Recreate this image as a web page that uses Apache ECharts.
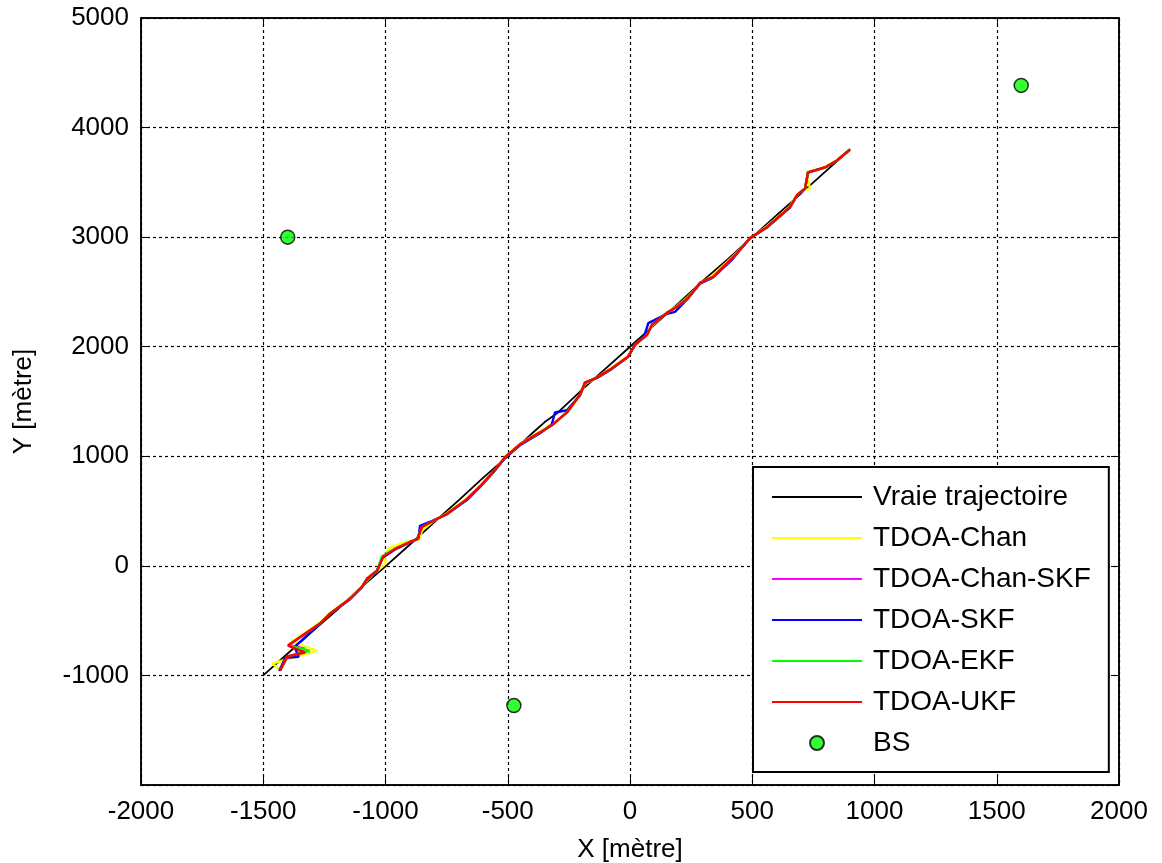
<!DOCTYPE html>
<html>
<head>
<meta charset="utf-8">
<script src="https://cdn.jsdelivr.net/npm/echarts@6/dist/echarts.min.js"></script>
<style>
  html, body { margin: 0; padding: 0; background: #fff; }
  #chart { width: 1162px; height: 863px; }
</style>
</head>
<body>
<div id="chart"></div>
<script>
// trajectories [x, y] in metres
const vraieTrajectoire = [
  [-1500, -1000], [-1400, -800], [-1300, -600], [-1200, -405], [-1100, -195], [-1000, -5],
  [-900, 195], [-800, 400], [-700, 600], [-600, 805], [-500, 1000], [-400, 1210],
  [-350, 1310], [-300, 1390], [-200, 1600], [-100, 1800], [0, 2000], [100, 2200],
  [200, 2400], [300, 2605], [400, 2800], [500, 3000], [600, 3200], [700, 3400],
  [800, 3600], [900, 3800]
];

const tdoaChan = [
  [-1425, -955], [-1464, -891], [-1395, -850], [-1280, -773], [-1382, -691], [-1268, -520],
  [-1227, -430], [-1145, -295], [-1096, -185], [-1070, -120], [-1040, -60], [-1000, 20],
  [-1005, 80], [-985, 160], [-930, 210], [-865, 240], [-848, 330], [-806, 405], [-749, 480],
  [-667, 615], [-613, 720], [-560, 850], [-511, 995], [-450, 1115], [-368, 1225], [-315, 1300],
  [-258, 1400], [-204, 1550], [-184, 1660], [-135, 1720], [-82, 1800], [-8, 1915], [20, 2010],
  [70, 2115], [90, 2190], [151, 2315], [192, 2370], [237, 2455], [286, 2575], [339, 2650],
  [438, 2860], [491, 2985], [560, 3100], [654, 3280], [683, 3395], [736, 3445], [723, 3591],
  [797, 3640], [847, 3705], [900, 3800]
];

const tdoaChanSkf = [
  [-1430, -955], [-1400, -830], [-1355, -800], [-1330, -755], [-1395, -722], [-1268, -527],
  [-1227, -436], [-1145, -300], [-1096, -191], [-1076, -118], [-1035, -45], [-1010, 82],
  [-961, 155], [-900, 218], [-870, 245], [-851, 355], [-806, 409], [-749, 473], [-667, 609],
  [-613, 727], [-560, 855], [-511, 991], [-450, 1109], [-368, 1218], [-315, 1291], [-258, 1400],
  [-204, 1564], [-184, 1673], [-135, 1718], [-82, 1791], [-8, 1909], [20, 2018], [70, 2109],
  [90, 2200], [151, 2309], [192, 2364], [237, 2445], [286, 2582], [339, 2636], [438, 2855],
  [491, 2991], [560, 3091], [654, 3273], [683, 3382], [716, 3445], [728, 3591], [797, 3636],
  [847, 3700], [900, 3800]
];

const tdoaSkf = [
  [-1435, -960], [-1410, -840], [-1355, -830], [-1372, -740], [-1268, -530], [-1227, -440],
  [-1145, -305], [-1096, -195], [-1076, -125], [-1035, -50], [-1012, 75], [-961, 150],
  [-900, 215], [-865, 250], [-859, 364], [-806, 412], [-749, 470], [-667, 600], [-613, 720],
  [-560, 850], [-511, 985], [-450, 1100], [-368, 1210], [-320, 1290], [-307, 1400], [-258, 1420],
  [-204, 1560], [-184, 1670], [-135, 1715], [-82, 1785], [-8, 1905], [20, 2015], [60, 2110],
  [75, 2215], [151, 2300], [184, 2318], [237, 2440], [286, 2575], [339, 2630], [420, 2800],
  [438, 2850], [491, 2990], [560, 3088], [654, 3270], [683, 3380], [716, 3440], [728, 3590],
  [797, 3634], [847, 3700], [900, 3800]
];

const tdoaEkf = [
  [-1430, -955], [-1402, -828], [-1310, -775], [-1397, -725], [-1268, -527], [-1227, -436],
  [-1145, -300], [-1096, -191], [-1076, -118], [-1035, -45], [-1015, 85], [-961, 158],
  [-900, 218], [-870, 245], [-851, 355], [-806, 409], [-749, 473], [-667, 609], [-613, 727],
  [-560, 855], [-511, 991], [-450, 1109], [-368, 1218], [-315, 1291], [-258, 1400], [-204, 1564],
  [-184, 1673], [-135, 1718], [-82, 1791], [-8, 1909], [20, 2018], [70, 2109], [90, 2200],
  [151, 2309], [192, 2364], [237, 2445], [286, 2582], [339, 2636], [438, 2855], [491, 2991],
  [560, 3091], [654, 3273], [683, 3382], [716, 3445], [728, 3591], [797, 3636], [847, 3700],
  [900, 3800]
];

const tdoaUkf = [
  [-1431, -955], [-1403, -827], [-1329, -791], [-1399, -727], [-1268, -527], [-1227, -436],
  [-1145, -300], [-1096, -191], [-1076, -118], [-1035, -45], [-1010, 82], [-961, 155],
  [-900, 218], [-870, 245], [-851, 355], [-806, 409], [-749, 473], [-667, 609], [-613, 727],
  [-560, 855], [-511, 991], [-450, 1109], [-368, 1218], [-315, 1291], [-258, 1400], [-204, 1564],
  [-184, 1673], [-135, 1718], [-82, 1791], [-8, 1909], [20, 2018], [70, 2109], [90, 2200],
  [151, 2309], [192, 2364], [237, 2445], [286, 2582], [339, 2636], [438, 2855], [491, 2991],
  [560, 3091], [654, 3273], [683, 3382], [716, 3445], [728, 3591], [797, 3636], [847, 3700],
  [900, 3800]
];

// base stations
const stations = [[-1400, 3000], [-475, -1275], [1600, 4385]];

const seriesNames = ['Vraie trajectoire', 'TDOA-Chan', 'TDOA-Chan-SKF', 'TDOA-SKF', 'TDOA-EKF', 'TDOA-UKF', 'BS'];
const seriesColors = ['#000000', '#ffff00', '#ff00ff', '#0000ff', '#00ff00', '#ff0000', '#00ff00'];
const tracks = [vraieTrajectoire, tdoaChan, tdoaChanSkf, tdoaSkf, tdoaEkf, tdoaUkf];

const FONT = 'Liberation Sans, Arial, sans-serif';
// thin bar used as legend icon for the lines (no marker in the middle)
const LINE_ICON = 'path://M0,0L90,0L90,2L0,2Z';

const chart = echarts.init(document.getElementById('chart'), null, { renderer: 'canvas' });

const lineSeries = tracks.map((track, i) => ({
  name: seriesNames[i],
  type: 'line',
  data: track,
  symbol: 'none',
  color: seriesColors[i],
  lineStyle: { color: seriesColors[i], width: i === 0 ? 1.8 : 2.4 },
  z: 2 + i,
  animation: false
}));

const plainLabel = v => String(v);

const option = {
  backgroundColor: '#fff',
  grid: {
    left: 141, top: 18, right: 43, bottom: 78,
    outerBoundsMode: 'none',
    show: true, borderColor: '#000', borderWidth: 1.5, backgroundColor: '#fff'
  },
  legend: {
    orient: 'vertical',
    left: 753,
    top: 467,
    padding: [16, 18, 15, 19],
    itemGap: 13,
    itemWidth: 90,
    itemHeight: 14,
    backgroundColor: '#fff',
    borderColor: '#000',
    borderWidth: 2,
    borderRadius: 0,
    textStyle: { fontFamily: FONT, fontSize: 28, color: '#000', padding: [0, 0, 0, 6] },
    data: seriesNames.map(n => n === 'BS' ? { name: n, icon: 'circle' } : { name: n, icon: LINE_ICON }),
    z: 20
  },
  xAxis: [{
    type: 'value',
    min: -2000, max: 2000, interval: 500,
    name: 'X [mètre]',
    nameLocation: 'middle',
    nameGap: 52,
    nameTextStyle: { fontFamily: FONT, fontSize: 26, color: '#000' },
    axisLine: { onZero: false, lineStyle: { color: '#000', width: 1.5 } },
    axisTick: { inside: true, length: 8, lineStyle: { color: '#000' } },
    axisLabel: { fontFamily: FONT, fontSize: 26, color: '#000', margin: 14, formatter: plainLabel },
    splitLine: { show: true, lineStyle: { color: '#000', type: [3, 3], width: 1.2 } }
  }, {
    type: 'value', position: 'top',
    min: -2000, max: 2000, interval: 500,
    axisLine: { onZero: false, lineStyle: { color: '#000', width: 1.5 } },
    axisTick: { inside: true, length: 8, lineStyle: { color: '#000' } },
    axisLabel: { show: false },
    splitLine: { show: false }
  }],
  yAxis: [{
    type: 'value',
    min: -2000, max: 5000, interval: 1000,
    name: 'Y [mètre]',
    nameLocation: 'middle',
    nameGap: 104,
    nameTextStyle: { fontFamily: FONT, fontSize: 26, color: '#000' },
    axisLine: { onZero: false, lineStyle: { color: '#000', width: 1.5 } },
    axisTick: { inside: true, length: 8, lineStyle: { color: '#000' } },
    axisLabel: { fontFamily: FONT, fontSize: 26, color: '#000', margin: 12, showMinLabel: false, formatter: plainLabel },
    splitLine: { show: true, lineStyle: { color: '#000', type: [3, 3], width: 1.2 } }
  }, {
    type: 'value', position: 'right',
    min: -2000, max: 5000, interval: 1000,
    axisLine: { onZero: false, lineStyle: { color: '#000', width: 1.5 } },
    axisTick: { inside: true, length: 8, lineStyle: { color: '#000' } },
    axisLabel: { show: false },
    splitLine: { show: false }
  }],
  series: lineSeries.concat([{
    name: 'BS',
    type: 'scatter',
    data: stations,
    symbol: 'circle',
    symbolSize: 14,
    itemStyle: { color: '#00ff00', borderColor: '#000', borderWidth: 1.5 },
    z: 10,
    animation: false
  }])
};

chart.setOption(option);
</script>
</body>
</html>
